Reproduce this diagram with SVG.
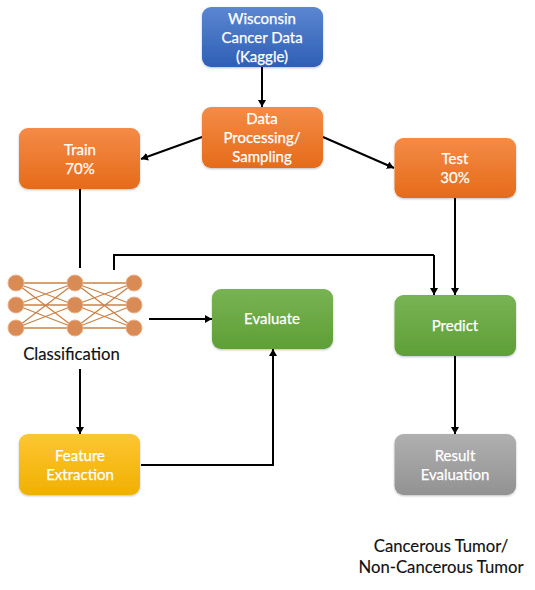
<svg xmlns="http://www.w3.org/2000/svg" width="535" height="590" viewBox="0 0 535 590">
<defs>
<linearGradient id="gBlue" x1="0" y1="0" x2="0" y2="1"><stop offset="0" stop-color="#5b86d1"/><stop offset="1" stop-color="#2f5fb5"/></linearGradient>
<linearGradient id="gOrange" x1="0" y1="0" x2="0" y2="1"><stop offset="0" stop-color="#f48b46"/><stop offset="1" stop-color="#e56b1a"/></linearGradient>
<linearGradient id="gGreen" x1="0" y1="0" x2="0" y2="1"><stop offset="0" stop-color="#78b354"/><stop offset="1" stop-color="#5f9f36"/></linearGradient>
<linearGradient id="gYellow" x1="0" y1="0" x2="0" y2="1"><stop offset="0" stop-color="#fdc633"/><stop offset="1" stop-color="#f0b000"/></linearGradient>
<linearGradient id="gGray" x1="0" y1="0" x2="0" y2="1"><stop offset="0" stop-color="#b0b0b0"/><stop offset="1" stop-color="#929292"/></linearGradient>
<marker id="arrow" markerUnits="userSpaceOnUse" markerWidth="8" markerHeight="8" refX="7" refY="4" orient="auto"><path d="M0 0L7 4L0 8Z" fill="#000"/></marker>
<filter id="soft" x="-10%" y="-10%" width="120%" height="125%"><feDropShadow dx="0" dy="1" stdDeviation="1.2" flood-color="#000" flood-opacity="0.25"/></filter>
</defs>
<style>
.box{filter:url(#soft)}
.t{font-family:"Lato","Open Sans",sans-serif;font-size:15px;fill:#fff;stroke:#fff;stroke-width:0.25;text-anchor:middle}
.k{font-family:"Lato","Open Sans",sans-serif;font-size:16.7px;fill:#111;stroke:#111;stroke-width:0.15;text-anchor:middle}
.c{fill:none;stroke:#000;stroke-width:2}
.a{marker-end:url(#arrow)}
.n{stroke:#c98248;stroke-width:1.3;fill:none}
.d{fill:#d98b55;stroke:#eeb08a;stroke-width:1}
</style>
<g id="connectors">
<path class="c a" d="M262 67V107"/>
<path class="c a" d="M202 137L141 159"/>
<path class="c a" d="M323 137L394 168"/>
<path class="c" d="M80 189V268"/>
<path class="c" d="M114 270V255H434"/>
<path class="c a" d="M434 255V295"/>
<path class="c a" d="M455 198V295"/>
<path class="c a" d="M149 319H212"/>
<path class="c a" d="M80 369V434"/>
<path class="c a" d="M141 465H273V349"/>
<path class="c a" d="M455 356V434"/>
</g>
<g id="network">
<path class="n" d="M16 283L75 283M16 283L75 305M16 283L75 328M16 305L75 283M16 305L75 305M16 305L75 328M16 328L75 283M16 328L75 305M16 328L75 328"/>
<path class="n" d="M75 283L134 283M75 283L134 305M75 283L134 328M75 305L134 283M75 305L134 305M75 305L134 328M75 328L134 283M75 328L134 305M75 328L134 328"/>
<circle class="d" cx="16" cy="283" r="8"/><circle class="d" cx="16" cy="305" r="8"/><circle class="d" cx="16" cy="328" r="8"/>
<circle class="d" cx="75" cy="283" r="8"/><circle class="d" cx="75" cy="305" r="8"/><circle class="d" cx="75" cy="328" r="8"/>
<circle class="d" cx="134" cy="283" r="8"/><circle class="d" cx="134" cy="305" r="8"/><circle class="d" cx="134" cy="328" r="8"/>
<text class="k" x="71.500" y="360">Classification</text>
</g>
<g id="wisconsin"><rect class="box" x="202" y="7" width="121" height="60" rx="9" fill="url(#gBlue)"/>
<text class="t" x="262" y="24">Wisconsin</text><text class="t" x="262" y="43">Cancer Data</text><text class="t" x="262" y="62">(Kaggle)</text></g>
<g id="processing"><rect class="box" x="202" y="107" width="121" height="61" rx="9" fill="url(#gOrange)"/>
<text class="t" x="262" y="124">Data</text><text class="t" x="262" y="143">Processing/</text><text class="t" x="262" y="162">Sampling</text></g>
<g id="train"><rect class="box" x="19" y="128" width="121" height="61" rx="9" fill="url(#gOrange)"/>
<text class="t" x="80" y="155">Train</text><text class="t" x="80" y="174">70%</text></g>
<g id="test"><rect class="box" x="394.500" y="138" width="121.500" height="60" rx="9" fill="url(#gOrange)"/>
<text class="t" x="455" y="164">Test</text><text class="t" x="455" y="183">30%</text></g>
<g id="evaluate"><rect class="box" x="212" y="289" width="121" height="60" rx="9" fill="url(#gGreen)"/>
<text class="t" x="272" y="324">Evaluate</text></g>
<g id="predict"><rect class="box" x="394.500" y="295" width="121.500" height="61" rx="9" fill="url(#gGreen)"/>
<text class="t" x="455" y="331">Predict</text></g>
<g id="feature"><rect class="box" x="19" y="434" width="121" height="61" rx="9" fill="url(#gYellow)"/>
<text class="t" x="80" y="461">Feature</text><text class="t" x="80" y="480">Extraction</text></g>
<g id="result"><rect class="box" x="394.500" y="434" width="121.500" height="61" rx="9" fill="url(#gGray)"/>
<text class="t" x="455" y="461">Result</text><text class="t" x="455" y="480">Evaluation</text></g>
<g id="outcome"><text class="k" x="441" y="552">Cancerous Tumor/</text><text class="k" x="441" y="573">Non-Cancerous Tumor</text></g>
</svg>
